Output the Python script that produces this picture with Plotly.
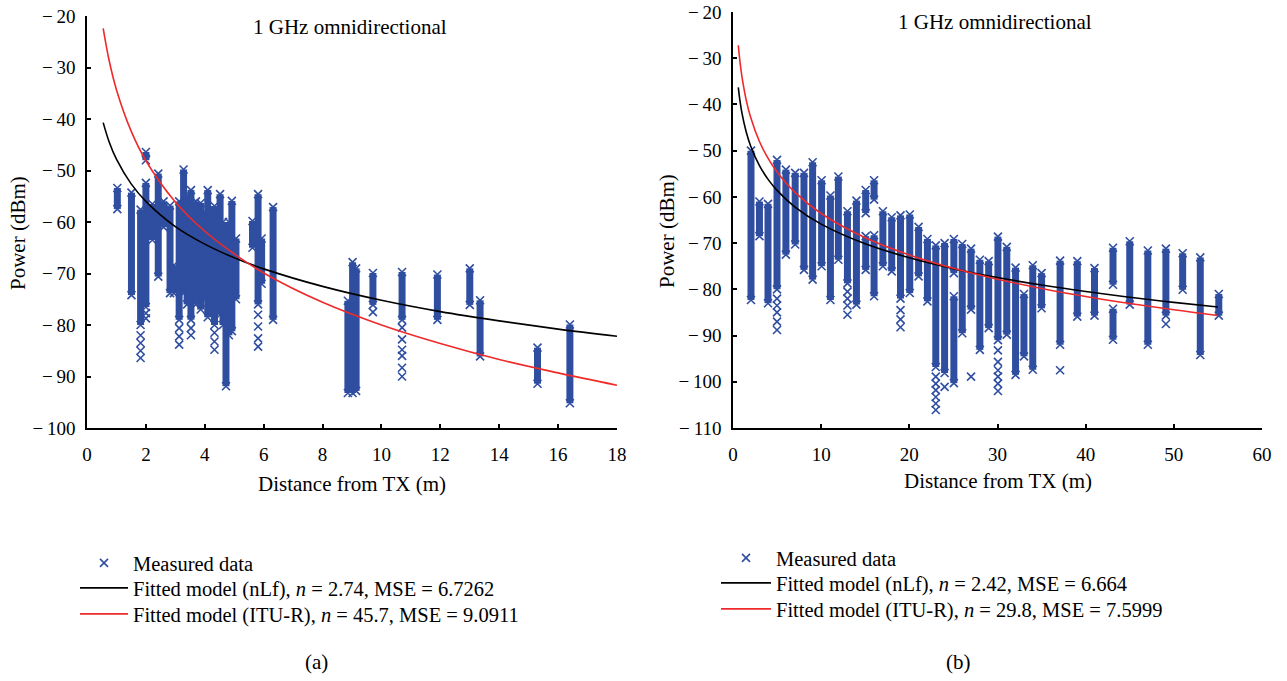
import plotly.graph_objects as go

W, H = 1287, 681
BLUE = "#2f4ea0"
RED = "#ee2a2a"
FONT = "Liberation Serif"

# ---------------- Panel (a): 1 GHz, distances up to 18 m ----------------
a_seg_d = [1.03, 1.51, 1.82, 2.00, 2.00, 2.22, 2.42, 2.60, 2.82, 2.95, 3.13, 3.28, 3.40, 3.53,
           3.70, 3.86, 3.98, 4.10, 4.22, 4.33, 4.52, 4.62, 4.72, 4.82, 4.92, 5.06, 5.62, 5.81,
           5.93, 6.32, 8.86, 9.02, 9.14, 9.71, 10.70, 11.90, 13.00, 13.35, 15.30, 16.40]
a_seg_top = [-53.4, -54.3, -57.6, -46.4, -52.4, -56.5, -50.6, -56.0, -56.8, -68.4, -56.0, -49.8, -55.0, -53.8,
             -56.0, -56.3, -58.0, -53.8, -58.0, -56.9, -54.6, -60.0, -66.7, -60.0, -55.9, -63.2, -59.8, -54.6,
             -63.2, -57.1, -75.3, -67.8, -69.0, -69.9, -69.7, -70.2, -69.0, -75.2, -84.4, -79.9]
a_seg_bot = [-57.5, -74.2, -80.0, -48.0, -76.5, -63.5, -70.6, -61.0, -73.8, -73.8, -79.0, -73.8, -76.0, -79.0,
             -76.0, -77.0, -75.0, -78.5, -76.0, -80.0, -78.0, -80.0, -91.9, -82.0, -81.2, -75.0, -65.0, -76.0,
             -72.0, -79.0, -93.2, -93.2, -92.8, -76.1, -79.0, -79.0, -76.1, -86.1, -91.4, -95.2]
a_out_d = [1.82, 1.82, 1.82, 1.82, 2.00, 2.00, 3.13, 3.13, 3.13, 3.53, 3.53, 4.33, 4.33, 4.33,
           5.81, 5.81, 5.81, 5.81, 9.71, 10.70, 10.70, 10.70, 10.70, 10.70, 10.70]
a_out_p = [-82.0, -83.5, -85.0, -86.4, -77.7, -78.7, -80.6, -82.2, -83.8, -80.6, -82.0, -81.5, -83.2, -84.8,
           -78.0, -80.3, -82.6, -84.2, -77.5, -80.5, -82.8, -84.8, -86.0, -88.3, -90.0]
a_fit_d = [0.55, 0.75, 1, 1.5, 2, 3, 4, 5, 6, 8, 10, 12, 14, 16, 18]
a_nlf = [-40.7, -44.4, -47.8, -52.6, -56.0, -60.9, -64.3, -66.95, -69.1, -72.5, -75.2, -77.4, -79.2, -80.8, -82.2]
a_itu = [-22.4, -28.6, -34.3, -42.35, -48.1, -56.1, -61.8, -66.2, -69.9, -75.6, -80.0, -83.6, -86.7, -89.3, -91.7]
a_xticks = [0, 2, 4, 6, 8, 10, 12, 14, 16, 18]
a_yticks = [-100, -90, -80, -70, -60, -50, -40, -30, -20]
a_names = ["Measured data",
           "Fitted model (nLf), <i>n</i> = 2.74, MSE = 6.7262",
           "Fitted model (ITU-R), <i>n</i> = 45.7, MSE = 9.0911"]

# ---------------- Panel (b): distances up to 55 m ----------------
b_seg_d = [2.04, 3.00, 3.97, 4.99, 6.00, 7.05, 8.05, 9.03, 10.05, 11.05, 11.95, 12.98, 14.00, 15.05, 15.05,
           16.00, 16.00, 17.00, 18.00, 19.00, 20.05, 21.05, 22.05, 23.00, 24.00, 25.05, 25.05, 26.00,
           27.00, 28.00, 29.00, 30.05, 31.05, 32.05, 33.00, 34.00, 35.00, 37.10, 39.05, 41.00, 43.10,
           43.10, 45.00, 47.05, 49.10, 51.00, 53.00, 55.10]
b_seg_top = [-50.0, -61.0, -61.5, -52.0, -54.1, -54.8, -54.8, -52.5, -56.4, -59.7, -55.6, -63.1, -60.8, -58.5, -68.5,
             -56.4, -68.3, -63.1, -64.4, -64.0, -63.8, -66.5, -69.1, -70.5, -70.0, -69.1, -81.5, -70.2,
             -71.2, -73.6, -73.9, -68.6, -70.8, -75.3, -81.0, -74.8, -76.5, -73.8, -73.9, -75.4, -71.0,
             -84.2, -69.6, -71.6, -71.2, -72.2, -73.1, -81.0]
b_seg_bot = [-82.3, -68.5, -83.0, -80.0, -72.5, -70.3, -75.8, -77.9, -75.0, -82.3, -73.6, -78.7, -83.3, -63.5, -75.8,
             -60.6, -81.5, -75.0, -76.1, -82.0, -80.8, -77.2, -82.6, -96.8, -98.1, -76.5, -100.3, -89.5,
             -84.4, -93.1, -88.4, -91.0, -89.8, -98.5, -94.5, -97.4, -84.1, -92.0, -85.9, -85.7, -79.0,
             -90.9, -83.3, -92.0, -85.7, -80.1, -94.2, -85.7]
b_out_d = [4.99, 4.99, 4.99, 4.99, 4.99, 12.98, 12.98, 12.98, 12.98, 19.00, 19.00, 19.00,
           23.00, 23.00, 23.00, 23.00, 23.00, 23.00, 24.00, 27.00,
           30.05, 30.05, 30.05, 30.05, 30.05, 30.05, 37.10, 49.10]
b_out_p = [-82.0, -83.5, -85.0, -87.0, -88.8, -80.5, -82.0, -83.5, -85.5, -84.5, -86.5, -88.2,
           -98.9, -100.4, -101.8, -103.3, -104.7, -106.1, -101.1, -98.9,
           -93.2, -95.7, -97.5, -98.9, -100.4, -102.0, -97.5, -87.5]
b_fit_d = [0.6, 0.8, 1, 1.5, 2, 3, 4, 5, 7, 10, 15, 20, 25, 30, 35, 40, 45, 50, 55]
b_nlf = [-36.3, -39.35, -41.7, -45.96, -48.98, -53.25, -56.27, -58.6, -62.15, -65.9, -70.16, -73.18,
         -75.53, -77.45, -79.07, -80.47, -81.71, -82.82, -83.82]
b_itu = [-27.2, -30.9, -33.8, -39.05, -42.77, -48.02, -51.74, -54.63, -58.98, -63.6, -68.85, -72.57,
         -75.46, -77.82, -79.81, -81.54, -83.07, -84.43, -85.66]
b_xticks = [0, 10, 20, 30, 40, 50, 60]
b_yticks = [-110, -100, -90, -80, -70, -60, -50, -40, -30, -20]
b_names = ["Measured data",
           "Fitted model (nLf), <i>n</i> = 2.42, MSE = 6.664",
           "Fitted model (ITU-R), <i>n</i> = 29.8, MSE = 7.5999"]

title_text = "1 GHz omnidirectional"
xlabel = "Distance from TX (m)"
ylabel = "Power (dBm)"


def seg_xy(d, top, bot):
    xs, ys = [], []
    for a, b, c in zip(d, top, bot):
        xs += [a, a, None]
        ys += [b, c, None]
    return xs, ys


mk = dict(symbol="x-thin", size=8, color=BLUE, line=dict(width=1.6, color=BLUE))

fig = go.Figure()


def add_panel(xa, ya, legs, sd, st, sb, od, op, fd, nlf, itu, names):
    xs, ys = seg_xy(sd, st, sb)
    fig.add_trace(go.Scatter(x=xs, y=ys, mode="lines+markers", xaxis=xa, yaxis=ya,
                             line=dict(color=BLUE, width=7), marker=mk,
                             showlegend=False, hoverinfo="skip"))
    fig.add_trace(go.Scatter(x=od, y=op, mode="markers", xaxis=xa, yaxis=ya, marker=mk,
                             name=names[0], legend=legs[0]))
    fig.add_trace(go.Scatter(x=fd, y=nlf, mode="lines", xaxis=xa, yaxis=ya, line_shape="spline",
                             line=dict(color="black", width=1.6), name=names[1], legend=legs[1]))
    fig.add_trace(go.Scatter(x=fd, y=itu, mode="lines", xaxis=xa, yaxis=ya, line_shape="spline",
                             line=dict(color=RED, width=1.6), name=names[2], legend=legs[2]))


add_panel("x", "y", ["legend", "legend2", "legend3"], a_seg_d, a_seg_top, a_seg_bot,
          a_out_d, a_out_p, a_fit_d, a_nlf, a_itu, a_names)
add_panel("x2", "y2", ["legend4", "legend5", "legend6"], b_seg_d, b_seg_top, b_seg_bot,
          b_out_d, b_out_p, b_fit_d, b_nlf, b_itu, b_names)

axfont = dict(family=FONT, size=19, color="black")
common = dict(showline=True, linecolor="black", linewidth=1.5, ticks="inside", ticklen=4,
              tickwidth=1.5, tickcolor="black", showgrid=False, zeroline=False, tickfont=axfont,
              automargin=False)


def ylabels(v):
    return ["\u2212\u2009" + str(abs(t)) if t < 0 else str(t) for t in v]


def px(x):
    return x / W


def py(y):
    return 1 - y / H


def leg(x, y, iw):
    return dict(x=px(x), y=py(y), xanchor="left", yanchor="middle", bgcolor="rgba(0,0,0,0)",
                font=dict(family=FONT, size=20.5, color="black"), itemwidth=iw)


fig.update_layout(
    width=W, height=H, margin=dict(l=0, r=0, t=0, b=0, autoexpand=False),
    paper_bgcolor="white", plot_bgcolor="white",
    xaxis=dict(domain=[px(87), px(617)], range=[0, 18], tickvals=a_xticks, anchor="y",
               ticklabelstandoff=8, **common),
    yaxis=dict(domain=[py(428), py(16)], range=[-100, -20], tickvals=a_yticks,
               ticktext=ylabels(a_yticks), anchor="x", ticklabelstandoff=6, **common),
    xaxis2=dict(domain=[px(733), px(1262)], range=[0, 60], tickvals=b_xticks, anchor="y2",
                ticklabelstandoff=8, **common),
    yaxis2=dict(domain=[py(428), py(12)], range=[-110, -20], tickvals=b_yticks,
                ticktext=ylabels(b_yticks), anchor="x2", ticklabelstandoff=6, **common),
    legend=leg(75, 563, 48), legend2=leg(75, 588, 48), legend3=leg(75, 614, 48),
    legend4=leg(716, 558, 50), legend5=leg(716, 583, 50), legend6=leg(716, 609, 50),
    showlegend=True,
)

ann = []
tf = dict(family=FONT, size=21, color="black")
for x, y, t in [(350, 27, title_text), (995, 22, title_text),
                (352, 484, xlabel), (998, 481, xlabel),
                (316, 662, "(a)"), (958, 662, "(b)")]:
    ann.append(dict(x=px(x), y=py(y), xref="paper", yref="paper", text=t, showarrow=False,
                    font=tf, xanchor="center", yanchor="middle"))
for x, y in [(18, 233), (667, 231)]:
    ann.append(dict(x=px(x), y=py(y), xref="paper", yref="paper", text=ylabel, showarrow=False,
                    font=tf, textangle=-90, xanchor="center", yanchor="middle"))
fig.update_layout(annotations=ann)

fig.write_html("out.html")
